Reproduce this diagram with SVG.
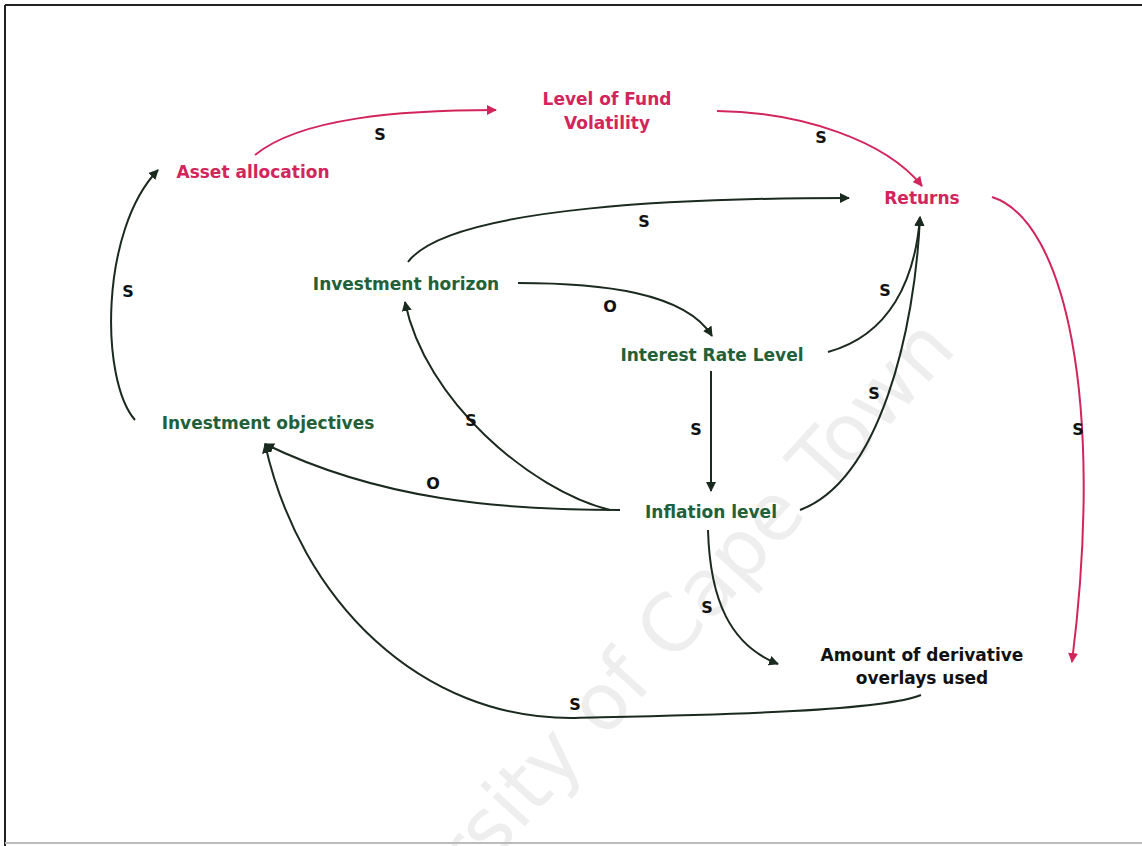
<svg xmlns="http://www.w3.org/2000/svg" width="1142" height="846" viewBox="0 0 1142 846">
<style>
text{font-family:"DejaVu Sans","Liberation Sans",sans-serif;font-weight:bold;font-size:17px;text-anchor:middle}
.pink{fill:#d2255c}
.green{fill:#22603a}
.black{fill:#111}
.lbl{fill:#111;font-size:16px}
.c{fill:none;stroke-width:2}
.cp{stroke:#d2255c}
.cd{stroke:#1b2a1e}
.wm{font-family:"DejaVu Sans","Liberation Sans",sans-serif;font-weight:normal;font-size:79px;fill:#eeeeee;text-anchor:end}
</style>
<defs>
<marker id="ap" viewBox="0 0 10 10" refX="9" refY="5" markerWidth="10" markerHeight="10" markerUnits="userSpaceOnUse" orient="auto"><path d="M0,0 L10,5 L0,10 Z" fill="#d2255c"/></marker>
<marker id="ad" viewBox="0 0 10 10" refX="9" refY="5" markerWidth="10" markerHeight="10" markerUnits="userSpaceOnUse" orient="auto"><path d="M0,0 L10,5 L0,10 Z" fill="#1b2a1e"/></marker>
</defs>
<rect width="1142" height="846" fill="#fff"/>
<text class="wm" transform="translate(958,350) rotate(-47.7)" x="0" y="0">University of Cape Town</text>
<g id="frame">
<line x1="5" y1="5" x2="1142" y2="5" stroke="#222" stroke-width="2"/>
<line x1="5" y1="5" x2="5" y2="846" stroke="#222" stroke-width="2"/>
<line x1="5" y1="843" x2="1142" y2="843" stroke="#bbb" stroke-width="2"/>
</g>
<g id="connectors">
<path class="c cp" d="M255,155 C300,118 400,110 496,110" marker-end="url(#ap)"/>
<path class="c cp" d="M717,111 C800,112 885,140 922,186" marker-end="url(#ap)"/>
<path class="c cp" d="M992,197 C1065,220 1105,400 1072,662" marker-end="url(#ap)"/>
<path class="c cd" d="M135,420 C100,380 100,230 158,170" marker-end="url(#ad)"/>
<path class="c cd" d="M408,262 C450,205 700,198 849,198" marker-end="url(#ad)"/>
<path class="c cd" d="M518,283 C600,283 685,292 712,336" marker-end="url(#ad)"/>
<path class="c cd" d="M828,352 C890,335 915,280 920,217" marker-end="url(#ad)"/>
<path class="c cd" d="M711,371 L711,491" marker-end="url(#ad)"/>
<path class="c cd" d="M800,510 C880,480 915,330 920,217" marker-end="url(#ad)"/>
<path class="c cd" d="M610,510 C530,490 425,400 405,302" marker-end="url(#ad)"/>
<path class="c cd" d="M620,510 C500,510 380,500 265,444" marker-end="url(#ad)"/>
<path class="c cd" d="M708,530 C710,600 730,645 778,664" marker-end="url(#ad)"/>
<path class="c cd" d="M921,695 C880,712 700,715 575,718 C420,720 300,600 265,444" marker-end="url(#ad)"/>
<text class="lbl" x="380" y="140">S</text>
<text class="lbl" x="821" y="143">S</text>
<text class="lbl" x="1078" y="435">S</text>
<text class="lbl" x="128" y="297">S</text>
<text class="lbl" x="644" y="227">S</text>
<text class="lbl" x="610" y="312">O</text>
<text class="lbl" x="885" y="296">S</text>
<text class="lbl" x="696" y="435">S</text>
<text class="lbl" x="874" y="399">S</text>
<text class="lbl" x="471" y="426">S</text>
<text class="lbl" x="433" y="489">O</text>
<text class="lbl" x="707" y="613">S</text>
<text class="lbl" x="575" y="710">S</text>
</g>
<g id="n-volatility"><text class="pink" x="607" y="105">Level of Fund</text><text class="pink" x="607" y="129">Volatility</text></g>
<g id="n-asset"><text class="pink" x="253" y="178">Asset allocation</text></g>
<g id="n-returns"><text class="pink" x="922" y="204">Returns</text></g>
<g id="n-horizon"><text class="green" x="406" y="290">Investment horizon</text></g>
<g id="n-interest"><text class="green" x="712" y="361">Interest Rate Level</text></g>
<g id="n-objectives"><text class="green" x="268" y="429">Investment objectives</text></g>
<g id="n-inflation"><text class="green" x="711" y="518">Inflation level</text></g>
<g id="n-derivative"><text class="black" x="922" y="661">Amount of derivative</text><text class="black" x="922" y="684">overlays used</text></g>
</svg>
